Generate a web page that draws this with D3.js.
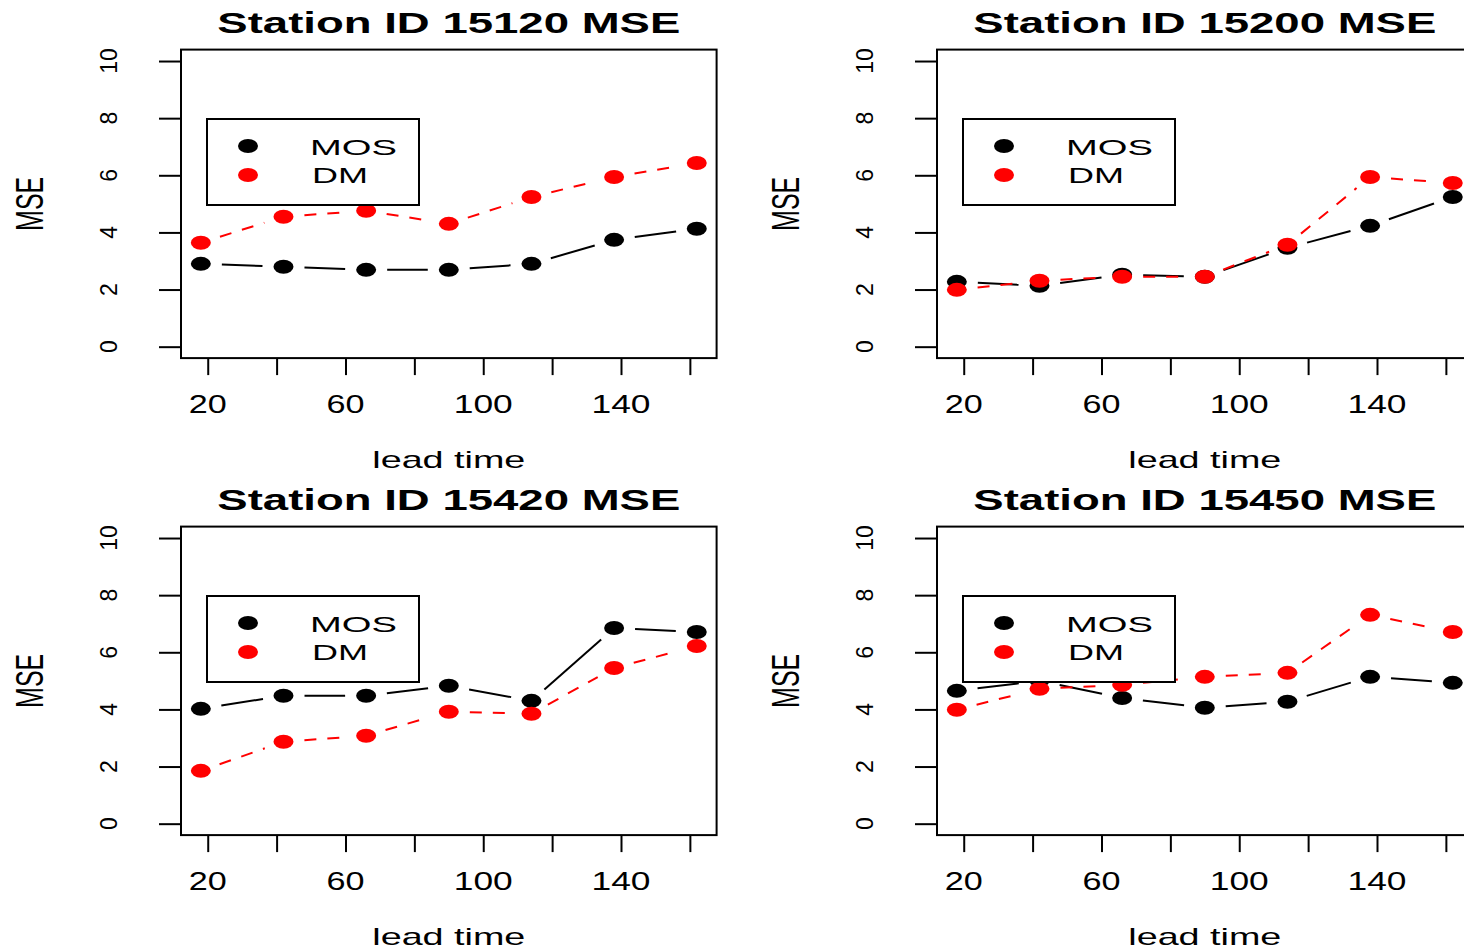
<!DOCTYPE html>
<html><head><meta charset="utf-8">
<script src="https://cdn.jsdelivr.net/npm/d3@7"></script>
<style>html,body{margin:0;padding:0;background:#fff;overflow:hidden}</style>
</head><body><svg id="c" width="1464" height="949"></svg>
<script>
// ---- data ----
const leadTimes = [18, 42, 66, 90, 114, 138, 162];
const stations = ["15120", "15200", "15420", "15450"];
const mos15120 = [2.90, 2.80, 2.69, 2.69, 2.90, 3.74, 4.13];
const dm15120  = [3.64, 4.55, 4.76, 4.30, 5.24, 5.94, 6.43];
const mos15200 = [2.27, 2.13, 2.52, 2.45, 3.46, 4.23, 5.24];
const dm15200  = [1.99, 2.31, 2.45, 2.45, 3.57, 5.94, 5.73];
const mos15420 = [4.02, 4.48, 4.48, 4.83, 4.30, 6.85, 6.71];
const dm15420  = [1.85, 2.87, 3.08, 3.92, 3.85, 5.45, 6.22];
const mos15450 = [4.65, 5.00, 4.40, 4.06, 4.27, 5.14, 4.93];
const dm15450  = [3.99, 4.72, 4.86, 5.14, 5.28, 7.31, 6.71];
const xTicks = [20, 40, 60, 80, 100, 120, 140, 160];
const xTickLabels = [20, 60, 100, 140];
const yTicks = [0, 2, 4, 6, 8, 10];
const seriesNames = ["MOS", "DM"];
const seriesColors = ["#000000", "#ff0000"];
const xLabel = "lead time";
const yLabel = "MSE";

const mosData = [mos15120, mos15200, mos15420, mos15450];
const dmData = [dm15120, dm15200, dm15420, dm15450];

// ---- layout ----
const FONT = "'Liberation Sans', Arial, Helvetica, sans-serif";
const svg = d3.select("#c");
svg.append("rect").attr("width", 1464).attr("height", 949).attr("fill", "#fff");

const STRETCH = 1.45; // horizontal stretch of the device
const GAP = 14.5;      // type="b" gap around points (unstretched units)

function hText(g, str, cx, baseline, size, len, weight, anchorStart) {
  const x0 = anchorStart ? cx : cx - len / 2;
  return g.append("text").attr("x", x0).attr("y", baseline)
    .attr("font-family", FONT).attr("font-size", size)
    .attr("font-weight", weight || "normal")
    .attr("textLength", len).attr("lengthAdjust", "spacingAndGlyphs")
    .attr("fill", "#000").text(str);
}
function vText(g, str, bx, cy, size, sx) {
  return g.append("text")
    .attr("transform", `translate(${bx},${cy}) scale(${sx},1) rotate(-90)`)
    .attr("text-anchor", "middle")
    .attr("font-family", FONT).attr("font-size", size)
    .attr("fill", "#000").text(str);
}

stations.forEach((st, i) => {
  const col = i % 2, row = Math.floor(i / 2);
  const g = svg.append("g").attr("transform", `translate(${col * 756},${row * 477})`);
  const x = d3.scaleLinear().domain([12.24, 167.76]).range([181, 716.6]);
  const y = d3.scaleLinear().domain([-0.4, 10.4]).range([358.1, 49.6]);

  // box
  g.append("rect").attr("x", x.range()[0]).attr("y", y.range()[1])
    .attr("width", x.range()[1] - x.range()[0]).attr("height", y.range()[0] - y.range()[1])
    .attr("fill", "none").attr("stroke", "#000").attr("stroke-width", 2);

  // x axis ticks via d3 axis
  const xa = g.append("g").attr("transform", `translate(0,${y.range()[0]})`)
    .call(d3.axisBottom(x).tickValues(xTicks).tickSize(17).tickFormat(""));
  xa.select(".domain").remove();
  xa.selectAll("line").attr("stroke", "#000").attr("stroke-width", 2);
  xTickLabels.forEach(v => {
    const s = String(v);
    hText(g, s, x(v), 413, 25, s.length === 2 ? 38 : 59);
  });

  // y axis ticks
  const ya = g.append("g").attr("transform", `translate(${x.range()[0]},0)`)
    .call(d3.axisLeft(y).tickValues(yTicks).tickSize(22).tickFormat(""));
  ya.select(".domain").remove();
  ya.selectAll("line").attr("stroke", "#000").attr("stroke-width", 2);
  yTicks.forEach(v => vText(g, String(v), 117, y(v), 23, 1.04));

  // titles / labels
  hText(g, `Station ID ${st} MSE`, (x.range()[0] + x.range()[1]) / 2, 33, 29, 463, "bold");
  hText(g, xLabel, (x.range()[0] + x.range()[1]) / 2, 468, 24, 153);
  vText(g, yLabel, 43, (y.range()[0] + y.range()[1]) / 2, 25, 1.56);

  // series
  [mosData[i], dmData[i]].forEach((vals, k) => {
    const pts = leadTimes.map((t, j) => [x(t), y(vals[j])]);
    const segs = [];
    for (let j = 0; j < pts.length - 1; j++) {
      const [x1, y1] = pts[j], [x2, y2] = pts[j + 1];
      const dx = (x2 - x1) / STRETCH, dy = y2 - y1;
      const L = Math.hypot(dx, dy);
      if (L <= 2 * GAP) continue;
      const t = GAP / L;
      segs.push([x1 + (x2 - x1) * t, y1 + (y2 - y1) * t, x2 - (x2 - x1) * t, y2 - (y2 - y1) * t]);
    }
    g.append("g").selectAll("line").data(segs).join("line")
      .attr("x1", d => d[0]).attr("y1", d => d[1]).attr("x2", d => d[2]).attr("y2", d => d[3])
      .attr("stroke", seriesColors[k]).attr("stroke-width", 2)
      .attr("stroke-dasharray", k === 1 ? "12,11" : null);
    g.append("g").selectAll("ellipse").data(pts).join("ellipse")
      .attr("cx", d => d[0]).attr("cy", d => d[1]).attr("rx", 10).attr("ry", 7)
      .attr("fill", seriesColors[k]);
  });

  // legend
  g.append("rect").attr("x", 207).attr("y", 119).attr("width", 212).attr("height", 86)
    .attr("fill", "#fff").attr("stroke", "#000").attr("stroke-width", 2);
  seriesNames.forEach((nm, k) => {
    g.append("ellipse").attr("cx", 248).attr("cy", 146 + k * 29).attr("rx", 10).attr("ry", 7)
      .attr("fill", seriesColors[k]);
    hText(g, nm, k === 0 ? 310 : 312, 155 + k * 28, 22, k === 0 ? 87 : 56, "normal", true);
  });
});
</script>
</body></html>
